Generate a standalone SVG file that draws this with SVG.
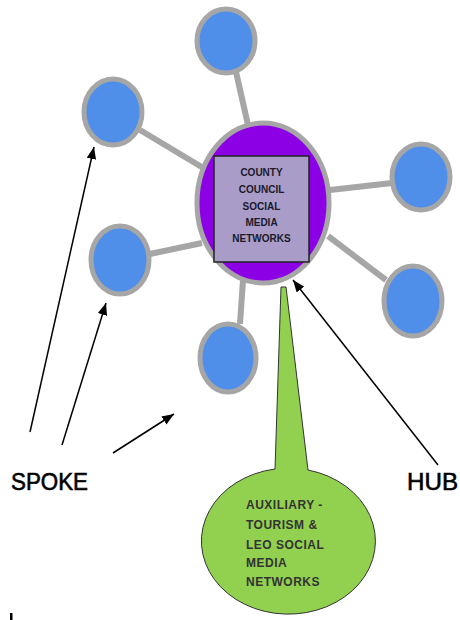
<svg xmlns="http://www.w3.org/2000/svg" width="460" height="620" viewBox="0 0 460 620">
<style>
.spoke-line{stroke:#A6A6A6;stroke-width:6;fill:none}
.spoke{fill:#4F8FEA;stroke:#A6A6A6;stroke-width:5}
.arrow{stroke:#000;stroke-width:1.5;fill:none;marker-end:url(#ah)}
.hubtxt{font-family:"Liberation Sans",Arial,sans-serif;font-weight:bold;font-size:10px;fill:#1a1a2a;text-anchor:middle}
.auxtxt{font-family:"Liberation Sans",Arial,sans-serif;font-weight:bold;font-size:12px;letter-spacing:0.5px;fill:#333}
.label{font-family:"Liberation Sans",Arial,sans-serif;font-size:24px;fill:#000;stroke:#000;stroke-width:0.6}
</style>
<defs>
<marker id="ah" viewBox="0 0 10 8" refX="10" refY="4" markerWidth="12" markerHeight="10" markerUnits="userSpaceOnUse" orient="auto">
<path d="M0,0 L10,4 L0,8 Z" fill="#000"/>
</marker>
</defs>
<rect width="460" height="620" fill="#fff"/>
<g id="connectors">
<line class="spoke-line" x1="236" y1="72" x2="248" y2="125"/>
<line class="spoke-line" x1="140" y1="130" x2="210" y2="172"/>
<line class="spoke-line" x1="330" y1="190" x2="392" y2="183"/>
<line class="spoke-line" x1="328" y1="236" x2="386" y2="280"/>
<line class="spoke-line" x1="150" y1="254" x2="202" y2="243"/>
<line class="spoke-line" x1="243" y1="280" x2="240" y2="324"/>
</g>
<g id="spoke-top"><ellipse class="spoke" cx="226" cy="41" rx="29" ry="32"/></g>
<g id="spoke-upper-left"><ellipse class="spoke" cx="113" cy="112" rx="29" ry="33"/></g>
<g id="spoke-right-upper"><ellipse class="spoke" cx="421" cy="177" rx="29" ry="33"/></g>
<g id="spoke-right-lower"><ellipse class="spoke" cx="413" cy="301" rx="29" ry="35"/></g>
<g id="spoke-left"><ellipse class="spoke" cx="120" cy="260" rx="29" ry="34"/></g>
<g id="spoke-bottom"><ellipse class="spoke" cx="228" cy="358" rx="28" ry="34"/></g>
<g id="hub">
<ellipse cx="263" cy="203" rx="66" ry="80" fill="#8C00E6" stroke="#A6A6A6" stroke-width="5"/>
<rect x="214" y="156" width="95" height="106" fill="#A99CC9" stroke="#222" stroke-width="1.5"/>
<text class="hubtxt" x="261.5" y="176">COUNTY</text>
<text class="hubtxt" x="261.5" y="193">COUNCIL</text>
<text class="hubtxt" x="261.5" y="210">SOCIAL</text>
<text class="hubtxt" x="261.5" y="226">MEDIA</text>
<text class="hubtxt" x="261.5" y="242">NETWORKS</text>
</g>
<g id="auxiliary">
<path d="M281,287 L286,287 L308,470 A87,73 0 1 1 275,469 Z" fill="#92D050" stroke="#333" stroke-width="1"/>
<text class="auxtxt" x="246" y="509">AUXILIARY -</text>
<text class="auxtxt" x="246" y="529">TOURISM &amp;</text>
<text class="auxtxt" x="246" y="549">LEO SOCIAL</text>
<text class="auxtxt" x="246" y="567">MEDIA</text>
<text class="auxtxt" x="246" y="586">NETWORKS</text>
</g>
<g id="arrows">
<line class="arrow" x1="30" y1="432" x2="94" y2="147"/>
<line class="arrow" x1="62" y1="445" x2="106" y2="303"/>
<line class="arrow" x1="113" y1="453" x2="174" y2="414"/>
<line class="arrow" x1="438" y1="465" x2="293" y2="280"/>
</g>
<g id="spoke-label"><text class="label" x="11" y="490" textLength="77" lengthAdjust="spacingAndGlyphs">SPOKE</text></g>
<g id="hub-label"><text class="label" x="407" y="490" textLength="51" lengthAdjust="spacingAndGlyphs">HUB</text></g>
<rect x="10" y="613" width="2.5" height="7" fill="#000"/>
</svg>
